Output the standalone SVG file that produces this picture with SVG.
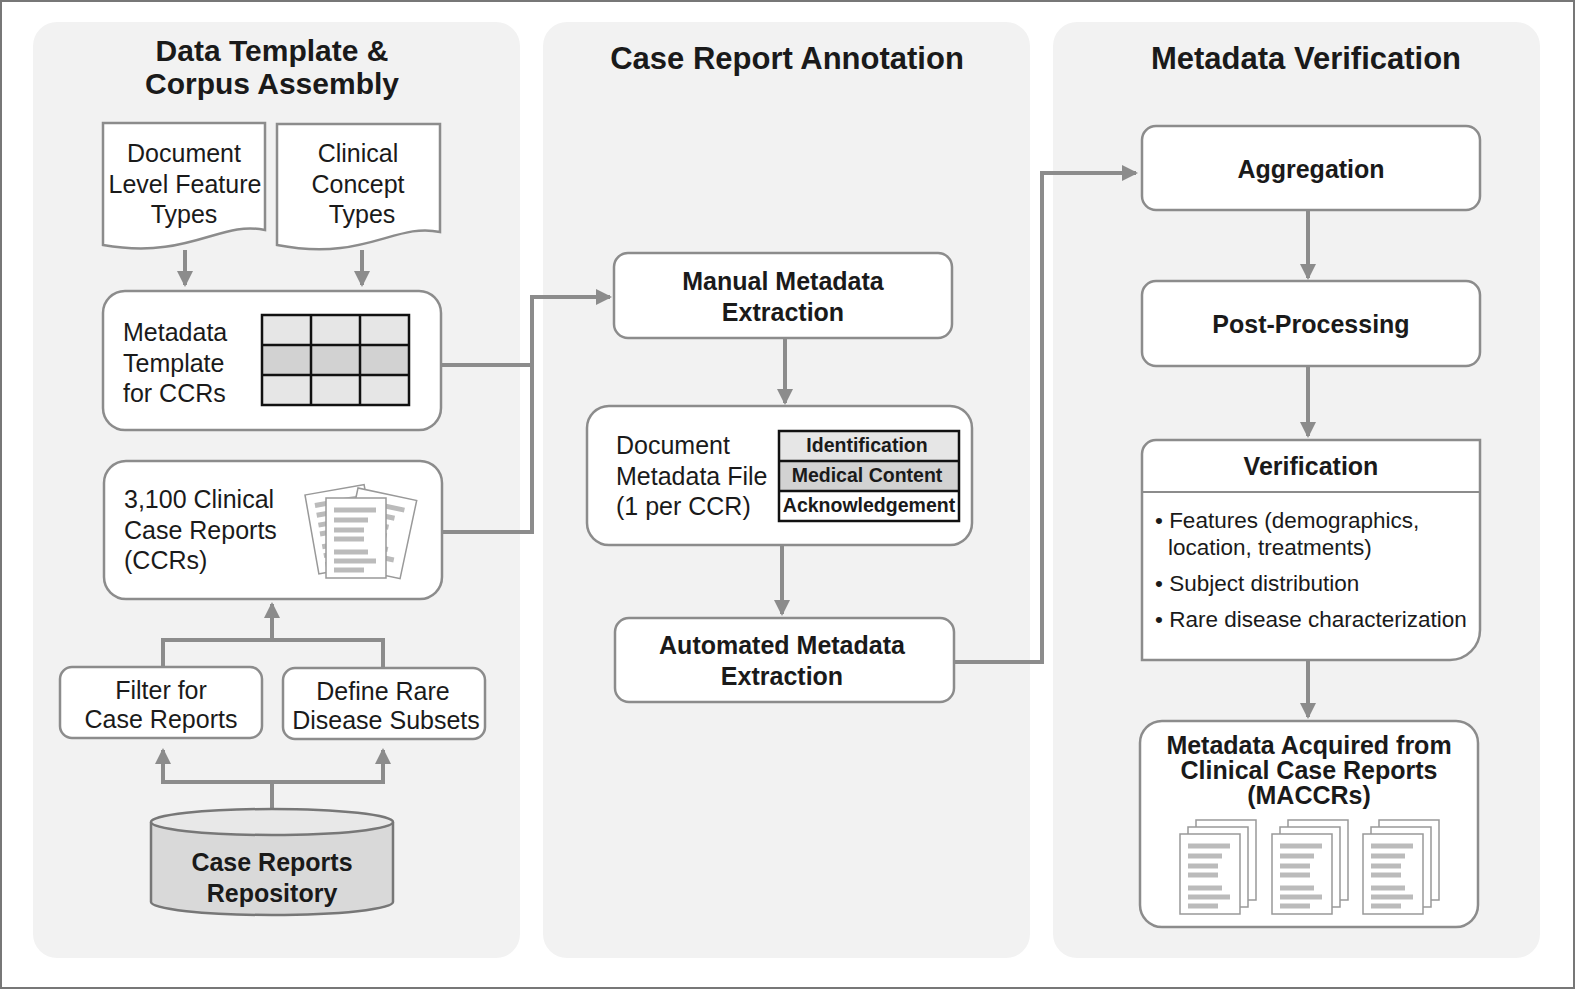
<svg xmlns="http://www.w3.org/2000/svg" width="1575" height="989" viewBox="0 0 1575 989">
<style>
text{font-family:"Liberation Sans",Arial,sans-serif;fill:#1a1a1a}
.t{font-size:31px;font-weight:bold;text-anchor:middle}
.n{font-size:25px}
.c{text-anchor:middle}
.b{font-size:25px;font-weight:bold;text-anchor:middle}
.s{font-size:19.5px;font-weight:bold;text-anchor:middle}
.v{font-size:22.5px}
.box{fill:#fff;stroke:#8c8c8c;stroke-width:2.5}
.panel{fill:#f2f2f2}
.con{fill:none;stroke:#8c8c8c;stroke-width:4}
.grid{stroke:#111;stroke-width:2.5}
.pg{fill:#fff;stroke:#999;stroke-width:1.5}
.ln{stroke:#bbb;stroke-width:5}
</style>
<defs>
<marker id="ah" markerUnits="userSpaceOnUse" markerWidth="16" markerHeight="16" refX="14" refY="8" orient="auto">
<path d="M0,0 L16,8 L0,16 Z" fill="#8c8c8c"/>
</marker>
<g id="page">
<rect class="pg" x="0" y="0" width="60" height="80"/>
<path class="ln" d="M8,12h42M8,22h34M8,32h30M8,41h30M8,54h34M8,63h42M8,72h30"/>
</g>
<g id="stack">
<use href="#page" x="16" y="-14"/>
<use href="#page" x="8" y="-7"/>
<use href="#page" x="0" y="0"/>
</g>
</defs>
<rect x="1" y="1" width="1573" height="987" fill="#fff" stroke="#777" stroke-width="2"/>
<rect class="panel" x="33" y="22" width="487" height="936" rx="24"/>
<rect class="panel" x="543" y="22" width="487" height="936" rx="24"/>
<rect class="panel" x="1053" y="22" width="487" height="936" rx="24"/>
<text class="t" x="272" y="61" style="font-size:30px">Data Template &amp;</text>
<text class="t" x="272" y="94" style="font-size:30px">Corpus Assembly</text>
<text class="t" x="787" y="69">Case Report Annotation</text>
<text class="t" x="1306" y="69">Metadata Verification</text>

<g id="connectors">
<path class="con" d="M185,250V285" marker-end="url(#ah)"/>
<path class="con" d="M362,250V285" marker-end="url(#ah)"/>
<path class="con" d="M272,808V782H163V750" marker-end="url(#ah)"/>
<path class="con" d="M272,782H383V750" marker-end="url(#ah)"/>
<path class="con" d="M163,667V640H383V668M272,640V604" marker-end="url(#ah)"/>
<path class="con" d="M441,365H532M442,532H532V297H610" marker-end="url(#ah)"/>
<path class="con" d="M785,338V403" marker-end="url(#ah)"/>
<path class="con" d="M782,545V614" marker-end="url(#ah)"/>
<path class="con" d="M954,662H1042V173H1136" marker-end="url(#ah)"/>
<path class="con" d="M1308,210V278" marker-end="url(#ah)"/>
<path class="con" d="M1308,366V436" marker-end="url(#ah)"/>
<path class="con" d="M1308,660V717" marker-end="url(#ah)"/>
</g>

<g id="doc-features">
<path class="box" d="M103,123H265V230C220,220 190,260 103,245Z"/>
<text class="n c" x="184" y="162">Document</text>
<text class="n c" x="185" y="193">Level Feature</text>
<text class="n c" x="184" y="223">Types</text>
</g>
<g id="doc-concepts">
<path class="box" d="M277,124H440V232C395,222 365,262 277,245Z"/>
<text class="n c" x="358" y="162">Clinical</text>
<text class="n c" x="358" y="193">Concept</text>
<text class="n c" x="362" y="223">Types</text>
</g>
<g id="template">
<rect class="box" x="103" y="291" width="338" height="139" rx="22"/>
<text class="n" x="123" y="341">Metadata</text>
<text class="n" x="123" y="372">Template</text>
<text class="n" x="123" y="402">for CCRs</text>
<rect x="262" y="315" width="147" height="30" fill="#e6e6e6"/>
<rect x="262" y="345" width="147" height="30" fill="#d2d2d2"/>
<rect x="262" y="375" width="147" height="30" fill="#e6e6e6"/>
<path class="grid" fill="none" d="M262,315h147v90h-147zM311,315v90M360,315v90M262,345h147M262,375h147"/>
</g>
<g id="ccrs">
<rect class="box" x="104" y="461" width="338" height="138" rx="22"/>
<text class="n" x="124" y="508">3,100 Clinical</text>
<text class="n" x="124" y="539">Case Reports</text>
<text class="n" x="124" y="569">(CCRs)</text>
<g transform="translate(305,495) rotate(-10)"><use href="#page"/></g>
<g transform="translate(358,488) rotate(12)"><use href="#page"/></g>
<use href="#page" x="326" y="498"/>
</g>
<g id="filter">
<rect class="box" x="60" y="667" width="202" height="71" rx="12"/>
<text class="n c" x="161" y="699">Filter for</text>
<text class="n c" x="161" y="728">Case Reports</text>
</g>
<g id="define">
<rect class="box" x="283" y="668" width="202" height="71" rx="12"/>
<text class="n c" x="383" y="700">Define Rare</text>
<text class="n c" x="386" y="729">Disease Subsets</text>
</g>
<g id="repository">
<path d="M151,822V902A121,13 0 0 0 393,902V822" fill="#d9d9d9" stroke="#777" stroke-width="2.5"/>
<ellipse cx="272" cy="822" rx="121" ry="13" fill="#e8e8e8" stroke="#777" stroke-width="2.5"/>
<text class="b" x="272" y="871">Case Reports</text>
<text class="b" x="272" y="902">Repository</text>
</g>

<g id="manual">
<rect class="box" x="614" y="253" width="338" height="85" rx="14"/>
<text class="b" x="783" y="290">Manual Metadata</text>
<text class="b" x="783" y="321">Extraction</text>
</g>
<g id="docmeta">
<rect class="box" x="587" y="406" width="385" height="139" rx="22"/>
<text class="n" x="616" y="454">Document</text>
<text class="n" x="616" y="485">Metadata File</text>
<text class="n" x="616" y="515">(1 per CCR)</text>
<rect x="779" y="431" width="180" height="30" fill="#e6e6e6"/>
<rect x="779" y="461" width="180" height="30" fill="#d2d2d2"/>
<rect x="779" y="491" width="180" height="30" fill="#fff"/>
<path class="grid" fill="none" d="M779,431h180v90h-180zM779,461h180M779,491h180"/>
<text class="s" x="867" y="452">Identification</text>
<text class="s" x="867" y="482">Medical Content</text>
<text class="s" x="869" y="512">Acknowledgement</text>
</g>
<g id="automated">
<rect class="box" x="615" y="618" width="339" height="84" rx="14"/>
<text class="b" x="782" y="654">Automated Metadata</text>
<text class="b" x="782" y="685">Extraction</text>
</g>

<g id="aggregation">
<rect class="box" x="1142" y="126" width="338" height="84" rx="14"/>
<text class="b" x="1311" y="178">Aggregation</text>
</g>
<g id="postprocessing">
<rect class="box" x="1142" y="281" width="338" height="85" rx="14"/>
<text class="b" x="1311" y="333">Post-Processing</text>
</g>
<g id="verification">
<path class="box" d="M1142,454A14,14 0 0 1 1156,440H1480V630A30,30 0 0 1 1450,660H1142Z"/>
<line x1="1142" y1="492" x2="1480" y2="492" stroke="#8c8c8c" stroke-width="2"/>
<text class="b" x="1311" y="475">Verification</text>
<text class="v" x="1155" y="528">• Features (demographics,</text>
<text class="v" x="1168" y="555">location, treatments)</text>
<text class="v" x="1155" y="591">• Subject distribution</text>
<text class="v" x="1155" y="627">• Rare disease characterization</text>
</g>
<g id="maccrs">
<rect class="box" x="1140" y="721" width="338" height="206" rx="22"/>
<text class="b" x="1309" y="754">Metadata Acquired from</text>
<text class="b" x="1309" y="779">Clinical Case Reports</text>
<text class="b" x="1309" y="804">(MACCRs)</text>
<use href="#stack" x="1180" y="834"/>
<use href="#stack" x="1272" y="834"/>
<use href="#stack" x="1363" y="834"/>
</g>
</svg>
